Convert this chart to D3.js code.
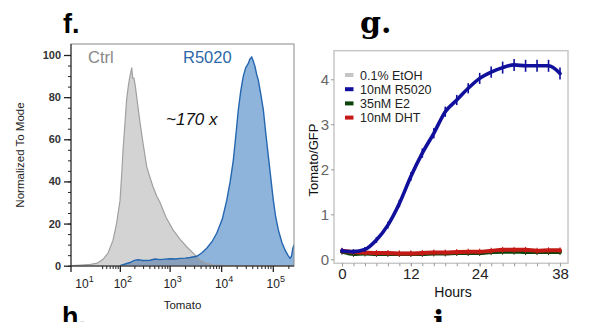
<!DOCTYPE html>
<html><head><meta charset="utf-8">
<script src="https://cdn.jsdelivr.net/npm/d3@7"></script>
<style>
html,body{margin:0;padding:0;background:#fff;}
svg{display:block;font-family:"Liberation Sans",Arial,sans-serif;}
</style></head>
<body><svg id="c" width="596" height="322"></svg>
<script>
// ---------- Panel f data: flow histograms (Tomato intensity, % of mode) ----------
const ctrlHist = [
  [3,0],[10,0.3],[20,0.6],[30,1.2],[42,3],[55,6],[71,12],[85,20],[101,31],[110,44],
  [117,55],[125,64],[139,79],[150,85],[160,89],[170,92],[177,94],[185,89],[196,89],
  [210,85],[235,76],[260,68],[300,58],[354,47],[410,42],[472,37.5],[560,33],[648,30],
  [850,23],[1165,17],[1600,12.5],[2150,9],[3000,5.5],[3900,2.7],[5200,1.2],[7000,0.3],
  [13000,0],[257000,0]
];
const r5020Hist = [
  [101,0],[130,0.8],[163,1.5],[200,2.5],[237,2.8],[300,2.5],[412,2.6],[520,3.2],[648,2.9],
  [800,3.1],[1018,3.3],[1300,3.2],[1594,3.5],[2000,3.6],[2494,3.9],[3368,4.5],[4200,6],
  [5260,8.3],[6700,11.5],[8220,15.4],[10500,22],[12840,31],[15000,40],[17210,50],[19500,63],
  [21520,74],[24000,83],[26900,90],[30000,94],[33610,96],[36000,98],[39100,99],[42000,97],
  [45310,94.5],[48500,91],[52510,88],[58000,82],[65610,74],[73000,63],[81910,52],[92000,41],
  [102350,31],[114000,23],[127880,17],[150000,11],[172320,7.5],[195000,5],[215300,3.5],
  [230000,4.5],[242790,8],[257000,10]
];
const flowXMajor = [10,100,1000,10000,100000];
const flowXExp = ["1","2","3","4","5"];
const flowYTicks = [0,20,40,60,80,100];

// ---------- Panel g data: Tomato/GFP time course ----------
const hours = [0,2,4,6,8,10,12,14,16,18,20,22,24,26,28,30,32,34,36,38];
const etoh  = [0.17,0.15,0.14,0.13,0.13,0.13,0.13,0.13,0.14,0.14,0.15,0.15,0.16,0.17,0.18,0.18,0.18,0.17,0.18,0.18];
const r5020 = [0.19,0.17,0.22,0.43,0.76,1.24,1.84,2.36,2.80,3.28,3.54,3.80,4.02,4.16,4.26,4.32,4.30,4.30,4.30,4.13];
const r5020Err = [0.02,0.02,0.02,0.03,0.04,0.05,0.06,0.07,0.08,0.08,0.08,0.08,0.09,0.09,0.10,0.10,0.10,0.10,0.10,0.10];
const e2    = [0.17,0.12,0.13,0.12,0.12,0.12,0.12,0.12,0.13,0.13,0.14,0.14,0.14,0.16,0.17,0.17,0.16,0.16,0.16,0.16];
const dht   = [0.19,0.16,0.15,0.14,0.14,0.13,0.13,0.14,0.15,0.15,0.16,0.17,0.17,0.19,0.21,0.21,0.21,0.19,0.20,0.20];
const seriesNames  = ["0.1% EtOH","10nM R5020","35nM E2","10nM DHT"];
const seriesColors = ["#c4c4c4","#10109c","#0c440c","#c41a16"];
const hourTicks = [0,12,24,38];
const ratioTicks = [0,1,2,3,4];

const svg = d3.select("#c");

// ================= Panel f =================
const fL = {l:71, r:294, t:44, b:266};
const xL = d3.scaleSymlog().constant(10).domain([2.5,257000]).range([fL.l,fL.r]);
const yL = d3.scaleLinear().domain([0,100]).range([265.7,55]);

svg.append("defs").append("clipPath").attr("id","clipF")
  .append("rect").attr("x",fL.l).attr("y",fL.t).attr("width",fL.r-fL.l).attr("height",fL.b-fL.t);

const areaF = d3.area().x(d=>xL(d[0])).y0(yL(0)).y1(d=>yL(d[1]));
const lineF = d3.line().x(d=>xL(d[0])).y(d=>yL(d[1]));
const gF = svg.append("g").attr("clip-path","url(#clipF)");
gF.append("path").datum(r5020Hist).attr("d",areaF).attr("fill","#8fb4dc");
gF.append("path").datum(ctrlHist).attr("d",areaF).attr("fill","rgba(120,120,120,0.33)");
gF.append("path").datum(ctrlHist).attr("d",lineF).attr("fill","none").attr("stroke","#a0a0a0").attr("stroke-width",1.2);
gF.append("path").datum(r5020Hist).attr("d",lineF).attr("fill","none").attr("stroke","#2466b0").attr("stroke-width",1.4);

// frame
svg.append("rect").attr("x",fL.l).attr("y",fL.t).attr("width",fL.r-fL.l).attr("height",fL.b-fL.t)
  .attr("fill","none").attr("stroke","#8a8a8a").attr("stroke-width",1);

// y axis
const yMinor = d3.range(0,101,5);
const yAxF = svg.append("g").attr("transform",`translate(${fL.l},0)`)
  .call(d3.axisLeft(yL).tickValues(yMinor).tickSize(3).tickFormat(""));
yAxF.call(g=>g.select(".domain").remove());
yAxF.selectAll("line").attr("stroke","#222");
const yAxF2 = svg.append("g").attr("transform",`translate(${fL.l},0)`)
  .call(d3.axisLeft(yL).tickValues(flowYTicks).tickSize(7).tickPadding(3).tickFormat(d3.format("d")));
yAxF2.select(".domain").attr("stroke","#222").attr("d",`M0,${fL.t}V${fL.b}`);
yAxF2.selectAll("line").attr("stroke","#222").attr("stroke-width",1.3);
yAxF2.selectAll("text").attr("font-size",11).attr("font-weight","bold").attr("fill","#333")
  .attr("font-family","Liberation Sans, Arial, sans-serif");

// x axis
let xMinor = [];
[40,50,60,70,80,90].forEach(v=>xMinor.push(v));
[100,1000,10000].forEach(dec=>{for(let k=2;k<=9;k++) xMinor.push(k*dec);});
xMinor.push(200000);
const xAxF = svg.append("g").attr("transform",`translate(0,${fL.b})`)
  .call(d3.axisBottom(xL).tickValues(xMinor).tickSize(3).tickFormat(""));
xAxF.select(".domain").attr("stroke","#222").attr("d",`M${fL.l},0H${fL.r}`);
xAxF.selectAll("line").attr("stroke","#222");
const xAxF2 = svg.append("g").attr("transform",`translate(0,${fL.b})`)
  .call(d3.axisBottom(xL).tickValues(flowXMajor.slice(1)).tickSize(6).tickFormat(""));
xAxF2.select(".domain").remove();
xAxF2.selectAll("line").attr("stroke","#222").attr("stroke-width",1.3);
svg.append("line").attr("x1",fL.l).attr("x2",fL.l).attr("y1",fL.b).attr("y2",fL.b+6).attr("stroke","#222").attr("stroke-width",1.3);

const lab = svg.append("g").selectAll("text").data(flowXMajor).join("text")
  .attr("x",(d)=>xL(d)+3).attr("y",288).attr("text-anchor","middle")
  .attr("font-size",12).attr("fill","#222");
lab.append("tspan").text("10");
lab.append("tspan").attr("dy",-6).attr("font-size",9).text((d,i)=>flowXExp[i]);

svg.append("text").attr("x",182.5).attr("y",309).attr("text-anchor","middle")
  .attr("font-size",11.5).attr("fill","#222").text("Tomato");
svg.append("text").attr("transform","translate(24,155) rotate(-90)").attr("text-anchor","middle")
  .attr("font-size",11.5).attr("fill","#222").text("Normalized To Mode");

svg.append("text").attr("x",88).attr("y",63).attr("font-size",16.5).attr("fill","#888").text("Ctrl");
svg.append("text").attr("x",183).attr("y",63).attr("font-size",16.5).attr("fill","#2d68a8").text("R5020");
svg.append("text").attr("x",166).attr("y",125).attr("font-size",17).attr("font-style","italic").attr("fill","#111").text("~170 x");

// panel letters
svg.append("text").attr("x",63).attr("y",33).attr("font-size",27).attr("font-weight","bold")
  .attr("font-family","Liberation Sans, Arial, sans-serif").attr("fill","#000").text("f.");
svg.append("text").attr("x",62).attr("y",326).attr("font-size",27).attr("font-weight","bold")
  .attr("font-family","Liberation Sans, Arial, sans-serif").attr("fill","#000").text("h.");
svg.append("text").attr("x",360).attr("y",33).attr("font-size",30).attr("font-weight","bold")
  .attr("font-family","DejaVu Serif, serif").attr("fill","#000").text("g.");
svg.append("text").attr("x",433).attr("y",332).attr("font-size",30).attr("font-weight","bold")
  .attr("font-family","DejaVu Serif, serif").attr("fill","#000").text("i.");

// ================= Panel g =================
const gP = {l:334, r:568, t:50.7, b:263.3};
const xR = d3.scaleLinear().domain([0,38]).range([342,560]);
const yR = d3.scaleLinear().domain([0,4]).range([259.3,79.3]);

svg.append("rect").attr("x",gP.l).attr("y",gP.t).attr("width",gP.r-gP.l).attr("height",gP.b-gP.t)
  .attr("fill","none").attr("stroke","#c8c8c8").attr("stroke-width",1.5);

const yAxR = svg.append("g").attr("transform",`translate(${gP.l},0)`)
  .call(d3.axisLeft(yR).tickValues(ratioTicks).tickSize(3).tickPadding(2).tickFormat(d3.format("d")));
yAxR.select(".domain").remove();
yAxR.selectAll("line").attr("stroke","#999");
yAxR.selectAll("text").attr("font-size",15).attr("fill","#666").attr("font-family","Liberation Sans, Arial, sans-serif");

const xAxR = svg.append("g").attr("transform",`translate(0,${gP.b})`)
  .call(d3.axisBottom(xR).tickValues(hours).tickSize(3).tickFormat(""));
xAxR.select(".domain").remove();
xAxR.selectAll("line").attr("stroke","#999");
const xAxR2 = svg.append("g").attr("transform",`translate(0,${gP.b})`)
  .call(d3.axisBottom(xR).tickValues(hourTicks).tickSize(3).tickPadding(2).tickFormat(d3.format("d")));
xAxR2.select(".domain").remove();
xAxR2.selectAll("line").attr("stroke","#999");
xAxR2.selectAll("text").attr("font-size",15).attr("fill","#222").attr("font-family","Liberation Sans, Arial, sans-serif");

svg.append("text").attr("x",453).attr("y",297).attr("text-anchor","middle")
  .attr("font-size",14).attr("fill","#111").text("Hours");
svg.append("text").attr("transform","translate(318,160) rotate(-90)").attr("text-anchor","middle")
  .attr("font-size",13).attr("fill","#111").text("Tomato/GFP");

const lineR = d3.line().x((d,i)=>xR(hours[i])).y(d=>yR(d)).curve(d3.curveMonotoneX);
const allSeries = [etoh, r5020, e2, dht];
const drawOrder = [0,2,3,1];
drawOrder.forEach(si=>{
  svg.append("path").datum(allSeries[si]).attr("d",lineR).attr("fill","none")
    .attr("stroke",seriesColors[si]).attr("stroke-width",si===1?3.6:4).attr("stroke-linecap","round");
  if(si===1){
    svg.append("g").selectAll("line").data(r5020).join("line")
      .attr("x1",(d,i)=>xR(hours[i])).attr("x2",(d,i)=>xR(hours[i]))
      .attr("y1",(d,i)=>yR(d+r5020Err[i])-1.5).attr("y2",(d,i)=>yR(d-r5020Err[i])+1.5)
      .attr("stroke",seriesColors[1]).attr("stroke-width",1.6);
  } else {
    svg.append("g").selectAll("line").data(allSeries[si]).join("line")
      .attr("x1",(d,i)=>xR(hours[i])).attr("x2",(d,i)=>xR(hours[i]))
      .attr("y1",d=>yR(d)-3).attr("y2",d=>yR(d)+3)
      .attr("stroke",seriesColors[si]).attr("stroke-width",1);
  }
});

// legend
const leg = svg.append("g").selectAll("g").data(seriesNames).join("g")
  .attr("transform",(d,i)=>`translate(345,${75+i*14.2})`);
leg.append("line").attr("x1",0).attr("x2",8.5).attr("y1",0).attr("y2",0)
  .attr("stroke",(d,i)=>seriesColors[i]).attr("stroke-width",4);
leg.append("text").attr("x",15).attr("y",4.5).attr("font-size",12.5).attr("fill","#222").text(d=>d);
</script></body></html>
